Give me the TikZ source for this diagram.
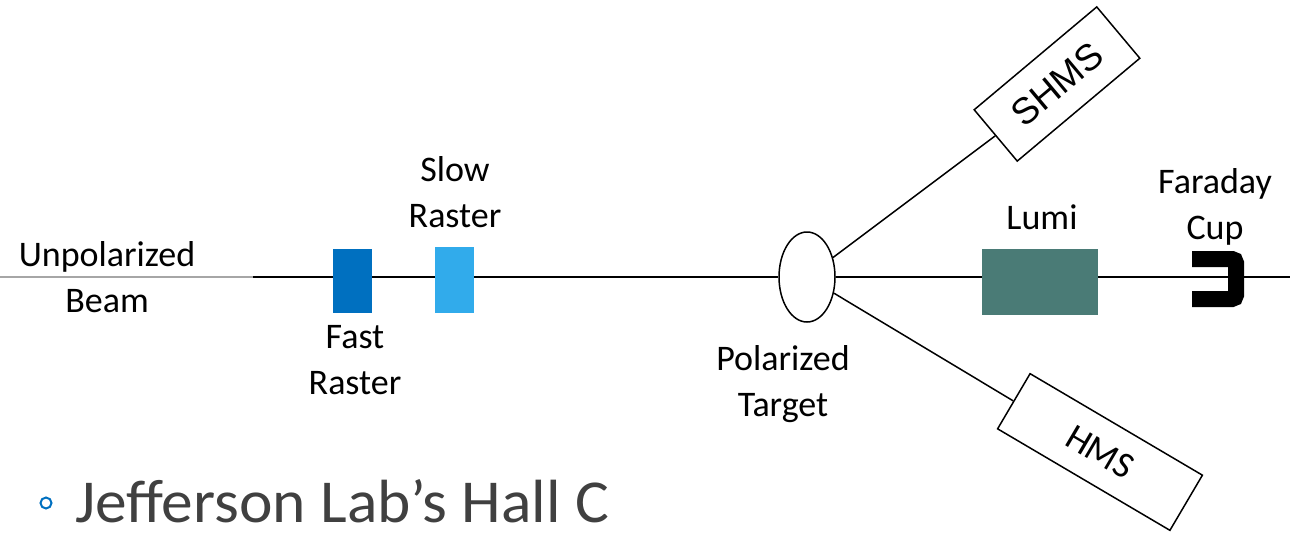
\documentclass[tikz,border=0pt]{standalone}
\usepackage{fontspec}
\setmainfont{Carlito}
\newfontfamily\arialfont{Liberation Sans}
\usetikzlibrary{shapes.geometric,backgrounds}
\definecolor{fastblue}{HTML}{0070C0}
\definecolor{slowblue}{HTML}{31ABEB}
\definecolor{lumigreen}{HTML}{4A7B76}
\definecolor{textgray}{HTML}{404040}
\definecolor{bulletblue}{HTML}{0070C0}
\tikzset{
  lbl/.style={align=center, inner sep=0pt, font=\fontsize{36}{46}\selectfont},
  rasterbox/.style={rectangle, inner sep=0pt, minimum width=39pt, minimum height=64pt},
  specbox/.style={rectangle, draw=black, fill=white, line width=1.5pt, inner sep=0pt},
  beam/.style={line width=1.6pt, black},
  arm/.style={line width=1.5pt, black},
}
\begin{document}
\begin{tikzpicture}[x=1pt,y=-1pt]
\useasboundingbox (0,0) rectangle (1307,533);
% components
\node[rasterbox, fill=fastblue] (fast) at (352.5,281) {};
\node[rasterbox, fill=slowblue, minimum height=66pt] (slow) at (454.5,280) {};
\node[ellipse, draw=black, fill=white, line width=1.5pt, minimum width=56pt, minimum height=90pt, inner sep=0pt] (target) at (807,277) {};
\node[rectangle, fill=lumigreen, inner sep=0pt, minimum width=116pt, minimum height=66pt] (lumi) at (1040,282) {};
\node[specbox, rotate=40, minimum width=160pt, minimum height=67pt, font=\arialfont\fontsize{37}{40}\selectfont] (shms) at (1057,84) {SHMS};
\node[specbox, rotate=-30.5, minimum width=200pt, minimum height=64pt, font=\fontsize{37}{44}\selectfont] (hms) at (1100,452) {HMS};
% beam line coordinates
\coordinate (beamstart) at (0,277);
\coordinate (beammid) at (253,277);
\coordinate (beamend) at (1290,277);
\coordinate (cup) at (1218,279);
\begin{scope}[on background layer]
\draw[line width=1.6pt, gray!70] (beamstart) -- (beammid);
\draw[beam] (beammid) -- (target.west);
\draw[beam] (target.east) -- (beamend);
\end{scope}
% spectrometer arms
\draw[arm] (target) -- (shms.west);
\draw[arm] (target) -- (hms.west);
% Faraday cup
\draw[line width=16pt, rounded corners=4pt] ([xshift=-26pt,yshift=-20pt]cup) -- ([xshift=18pt,yshift=-20pt]cup) -- ([xshift=18pt,yshift=20pt]cup) -- ([xshift=-26pt,yshift=20pt]cup);
% labels
\node[lbl] (lunpol) at (107,277) {Unpolarized\\Beam};
\node[lbl] (lslow) at (455,192) {Slow\\Raster};
\node[lbl] (lfast) at (355,360) {Fast\\Raster};
\node[lbl] (ltarget) at (783,384) {Polarized\\Target};
\node[lbl, anchor=base] (llumi) at (1042,229) {Lumi};
\node[lbl] (lcup) at (1215,207) {Faraday\\Cup};
% bottom bullet text
\node[circle, draw=bulletblue, line width=2pt, minimum size=11pt, inner sep=0pt] (bullet) at (46,503) {};
\node[anchor=base west, inner sep=0pt, text=textgray, font=\fontsize{61}{70}\selectfont] (title) at (75,522) {\scalebox{1.04}[1]{Jefferson Lab’s Hall C}};
\end{tikzpicture}
\end{document}
